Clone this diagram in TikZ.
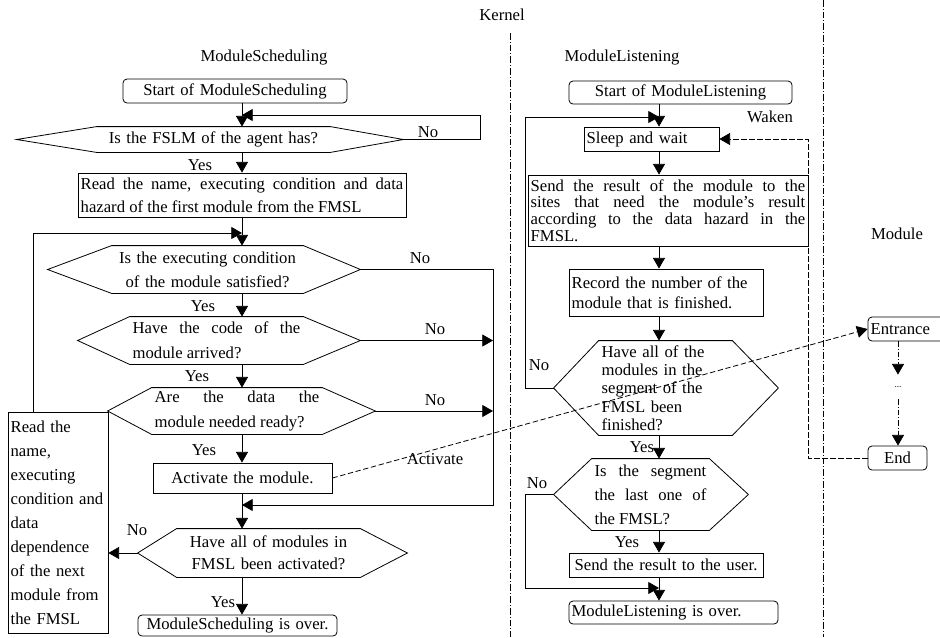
\documentclass[tikz,border=0pt]{standalone}
\usepackage{fontspec}
\setmainfont{Liberation Serif}
\usepackage{tikz}
\usetikzlibrary{arrows.meta, calc}

\newcommand{\lead}[1]{\fontsize{12.5}{#1}\selectfont}
% hexagon round a node: name, left tip, right tip (px)
\newcommand{\hexbox}[3]{%
  \coordinate (#1-L) at ([xshift=-#2*0.75pt]#1.west);
  \coordinate (#1-R) at ([xshift=#3*0.75pt]#1.east);
  \draw (#1.north west) -- (#1-L) -- (#1.south west) -- (#1.south east)
    -- (#1-R) -- (#1.north east) -- cycle;}

\tikzset{
  arr/.style={-{Triangle[length=8pt,width=9pt]}},
  procbox/.style={draw, inner xsep=2pt, inner ysep=0pt},
  termbox/.style={procbox, rounded corners=3pt},
  hexnode/.style={inner xsep=2pt, inner ysep=0pt},
  lbl/.style={inner sep=1pt},
  dashline/.style={dash pattern=on 4pt off 2pt},
  sepline/.style={dash pattern=on 5pt off 1.5pt on 0.8pt off 1.5pt, line width=0.5pt},
  modline/.style={dash pattern=on 4pt off 1.5pt on 0.8pt off 1.5pt},
}

\begin{document}
\begin{tikzpicture}[x=0.75pt, y=-0.75pt, line width=0.6pt, font={\lead{15}}]
  \fill[white] (0,0) rectangle (940,637);
  \useasboundingbox (0,0) rectangle (940,637);

  % titles
  \node (kernel) at (502,15) {Kernel};
  \node (tsched) at (264,58) {ModuleScheduling};
  \node (tlisten) at (622,58) {ModuleListening};
  \node (tmod) at (897,234) {Module};

  % separators
  \coordinate (sepA) at (510,33);
  \coordinate (sepAe) at (510,637);
  \coordinate (sepB) at (823,0);
  \coordinate (sepBe) at (823,637);
  \draw[sepline] (sepA) -- (sepAe);
  \draw[sepline] (sepB) -- (sepBe);

  % ModuleScheduling
  \node[termbox, text width=164pt, minimum height=18pt, align=center] (sbeg) at (235,91) {Start of ModuleScheduling};
  \node[hexnode, text width=170.75pt, minimum height=18.75pt, align=center] (q1) at (213.5,139.5) {Is the FSLM of the agent has?};
  \hexbox{q1}{80}{73}
  \node[procbox, text width=242pt, minimum height=33pt, align=justify, font={\lead{17}}] (rfirst) at (242,195)
    {Read the name, executing condition and data\linebreak hazard of the first module from the FMSL};
  \node[hexnode, text width=139.25pt, minimum height=35.25pt, align=center, font={\lead{18}}] (q2) at (207.5,269.5)
    {Is the executing condition\\ of the module satisfied?};
  \hexbox{q2}{64}{57}
  \node[hexnode, text width=125.75pt, minimum height=35.25pt, align=justify, font={\lead{18.75}}] (q3) at (216.5,340.5)
    {Have the code of the\linebreak module arrived?};
  \hexbox{q3}{52}{57}
  \node[hexnode, text width=123.5pt, minimum height=34.5pt, align=justify, font={\lead{18.75}}] (q4) at (237,411)
    {Are the data the\linebreak module needed ready?};
  \hexbox{q4}{44}{53}
  \node[procbox, text width=130.25pt, minimum height=22.5pt, align=center] (act) at (242.5,478) {Activate the module.};
  \node[hexnode, text width=133.25pt, minimum height=36pt, align=center, font={\lead{16.5}}] (q5) at (268.5,553)
    {Have all of modules in\\ FMSL been activated?};
  \hexbox{q5}{39}{47}
  \node[procbox, text width=71pt, minimum height=165.75pt, align=left, font={\lead{18}}] (rnext) at (58,522.5)
    {Read the\\ name,\\ executing\\ condition and\\ data\\ dependence\\ of the next\\ module from\\ the FMSL};
  \node[termbox, text width=145.25pt, minimum height=15.75pt, align=center] (send) at (237.5,625.5) {ModuleScheduling is over.};

  % ModuleListening
  \node[termbox, text width=163.25pt, minimum height=17.25pt, align=center] (lbeg) at (680.5,92.5) {Start of ModuleListening};
  \node[procbox, text width=97.25pt, minimum height=18pt, align=left] (sleep) at (651.5,139) {Sleep and wait};
  \node[procbox, text width=206pt, minimum height=53.25pt, align=justify, font={\lead{12.5}}] (sendr) at (668,210.5)
    {Send the result of the module to the\linebreak sites that need the module's result\linebreak according to the data hazard in the\linebreak FMSL.};
  \node[procbox, text width=141.5pt, minimum height=35.25pt, align=left] (record) at (666,292.5)
    {Record the number of the\\ module that is finished.};
  \node[hexnode, text width=95.75pt, minimum height=70.5pt, align=left, font={\lead{13.75}}] (q6) at (665.5,388)
    {Have all of the\\ modules in the\\ segment of the\\ FMSL been\\ finished?};
  \hexbox{q6}{45}{46}
  \node[hexnode, text width=83.75pt, minimum height=53.25pt, align=justify, font={\lead{18}}] (q7) at (650.5,494.5)
    {Is the segment\linebreak the last one of\linebreak the FMSL?};
  \hexbox{q7}{38}{39}
  \node[procbox, text width=141.5pt, minimum height=18pt, align=center] (sendu) at (666,565) {Send the result to the user.};
  \node[termbox, text width=152.75pt, minimum height=17.25pt, align=left] (lend) at (673.5,612.5) {ModuleListening is over.};

  % Module
  \node[termbox, text width=53pt, minimum height=18pt, align=left] (entr) at (906,329) {Entrance};
  \node[inner sep=0pt, minimum height=18pt, font=\scriptsize] (mdots) at (898,387) {...};
  \node[termbox, text width=40.25pt, minimum height=18pt, align=center] (mend) at (897.5,458) {End};

  % flow of ModuleScheduling
  \coordinate (axL) at (242,0);
  \coordinate (nA) at (480,115);
  \coordinate (nB) at (33,233);
  \coordinate (nC) at (493,505);
  \draw[arr] (sbeg.south -| axL) -- (q1.north -| axL);
  \draw[arr] (q1-R) -| (nA) -- (nA -| axL);
  \draw[arr] (q1.south -| axL) -- (rfirst.north -| axL);
  \draw[arr] (rfirst.south -| axL) -- (q2.north -| axL);
  \draw[arr] (rnext.north -| nB) -- (nB) -- (nB -| axL);
  \draw[arr] (q2.south -| axL) -- (q3.north -| axL);
  \draw[arr] (q2-R) -| (nC) -- (nC -| axL);
  \draw[arr] (q3-R) -- (q3-R -| nC);
  \draw[arr] (q3.south -| axL) -- (q4.north -| axL);
  \draw[arr] (q4-R) -- (q4-R -| nC);
  \draw[arr] (q4.south -| axL) -- (act.north -| axL);
  \draw[arr] (act.south -| axL) -- (q5.north -| axL);
  \draw[arr] (q5-L) -- (q5-L -| rnext.east);
  \draw[arr] (q5.south -| axL) -- (send.north -| axL);

  % flow of ModuleListening
  \coordinate (axM) at (659,0);
  \coordinate (nD) at (525,117);
  \coordinate (nE) at (525,588);
  \coordinate (nF) at (808,458);
  \draw[arr] (lbeg.south -| axM) -- (sleep.north -| axM);
  \draw[arr] (q6-L) -| (nD) -- (nD -| axM);
  \draw[arr] (sleep.south -| axM) -- (sendr.north -| axM);
  \draw[arr] (sendr.south -| axM) -- (record.north -| axM);
  \draw[arr] (record.south -| axM) -- (q6.north -| axM);
  \draw[arr] (q6.south -| axM) -- (q7.north -| axM);
  \draw[arr] (q7-L) -| (nE) -- (nE -| axM);
  \draw[arr] (q7.south -| axM) -- (sendu.north -| axM);
  \draw[arr] (sendu.south -| axM) -- (lend.north -| axM);

  % between the parts
  \draw[arr, dashline] (act.east) -- (entr.west);
  \draw[arr, dashline] (mend.west) -- (nF) |- (sleep.east);
  \draw[arr, modline] (entr.south -| mdots.north) -- (mdots.north);
  \draw[arr, modline] (mdots.south) -- (mend.north -| mdots.south);

  % labels
  \foreach \i/\x/\y in {1/200/165, 2/203/306, 3/197/376, 4/204/450, 5/223/602, 6/642/447, 7/627/542}
    \node[lbl] (yes\i) at (\x,\y) {Yes};
  \foreach \i/\x/\y in {1/428/132, 2/420/258, 3/435/329, 4/435/400, 5/137/530, 6/539/365, 7/537/483}
    \node[lbl] (no\i) at (\x,\y) {No};
  \node[lbl] (lact) at (435,459) {Activate};
  \node[lbl] (lwaken) at (770,117) {Waken};
\end{tikzpicture}
\end{document}
